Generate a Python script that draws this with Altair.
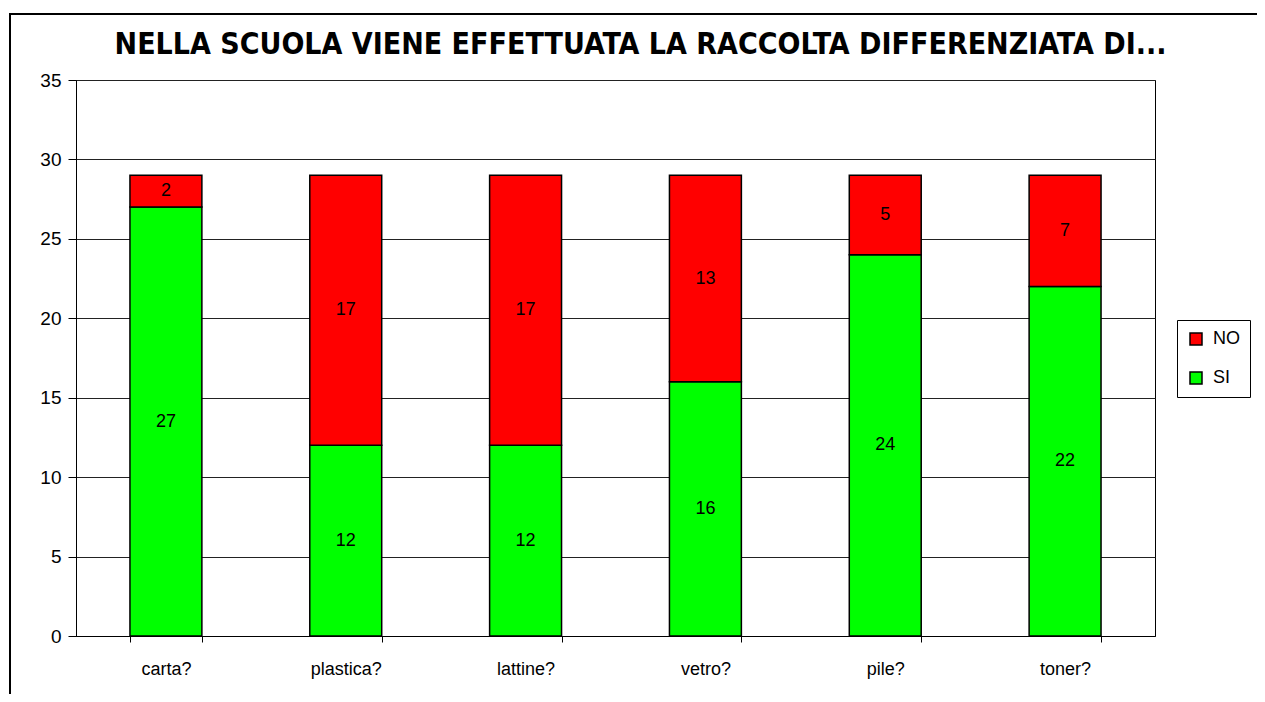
import altair as alt
import pandas as pd

categories = ["carta?", "plastica?", "lattine?", "vetro?", "pile?", "toner?"]
si_values = [27, 12, 12, 16, 24, 22]
no_values = [2, 17, 17, 13, 5, 7]
series_names = ["NO", "SI"]
series_colors = ["#FF0000", "#00FF00"]
title_text = "NELLA SCUOLA VIENE EFFETTUATA LA RACCOLTA DIFFERENZIATA DI..."

rows = []
for c, s, n in zip(categories, si_values, no_values):
    rows.append({"cat": c, "series": "SI", "value": s, "ord": 0})
    rows.append({"cat": c, "series": "NO", "value": n, "ord": 1})
df = pd.DataFrame(rows)

FONT = "Liberation Sans"

base = alt.Chart(df).transform_stack(
    stack="value", groupby=["cat"], as_=["v0", "v1"], sort=[alt.SortField("ord")]
).transform_calculate(mid="(datum.v0 + datum.v1) / 2")

xenc = alt.X(
    "cat:N", sort=categories, title=None,
    scale=alt.Scale(paddingInner=0.6, paddingOuter=0.3),
    axis=alt.Axis(labelAngle=0, tickBand="extent", tickSize=6, labelPadding=18,
                  labelFont=FONT, labelFontSize=18, labelColor="black",
                  domainColor="black", tickColor="black", grid=False),
)

bars = base.mark_bar(stroke="black", strokeWidth=1.5).encode(
    x=xenc,
    y=alt.Y("v0:Q", title=None,
            scale=alt.Scale(domain=[0, 35], nice=False),
            axis=alt.Axis(values=[0, 5, 10, 15, 20, 25, 30, 35], tickSize=8,
                          labelPadding=7, labelFont=FONT, labelFontSize=19,
                          labelColor="black", domainColor="black",
                          tickColor="black", gridColor="#222222", gridWidth=1)),
    y2="v1:Q",
    color=alt.Color(
        "series:N",
        scale=alt.Scale(domain=series_names, range=series_colors),
        legend=alt.Legend(
            title=None, orient="none", legendX=1101, legendY=240,
            symbolType="square", symbolSize=144, symbolStrokeColor="black",
            symbolStrokeWidth=1.5, labelFont=FONT, labelFontSize=18,
            labelColor="black", rowPadding=21, padding=10, labelOffset=8,
            strokeColor="black", fillColor="white",
        ),
    ),
)

labels = base.mark_text(font=FONT, fontSize=18, color="black").encode(
    x=alt.X("cat:N", sort=categories),
    y=alt.Y("mid:Q"),
    text=alt.Text("value:Q"),
)

border = alt.Chart(alt.Data(values=[{}])).mark_rect(
    filled=False, stroke="black", strokeWidth=2
).encode(
    x=alt.value(-66), x2=alt.value(1300), y=alt.value(-66), y2=alt.value(720)
)

chart = alt.layer(border, bars, labels).properties(
    width=1079, height=556,
    padding={"left": 68, "top": 72, "right": 102, "bottom": 58},
    autosize="none",
    title=alt.TitleParams(
        text=title_text, font="DejaVu Sans Condensed, Liberation Sans, sans-serif",
        fontSize=30, fontWeight="bold", color="black", anchor="middle", dx=25,
        baseline="alphabetic", offset=-71, frame="group",
    ),
).configure_view(stroke="black", strokeWidth=1)

chart.save("out.html", embed_options={"renderer": "svg", "actions": False})
